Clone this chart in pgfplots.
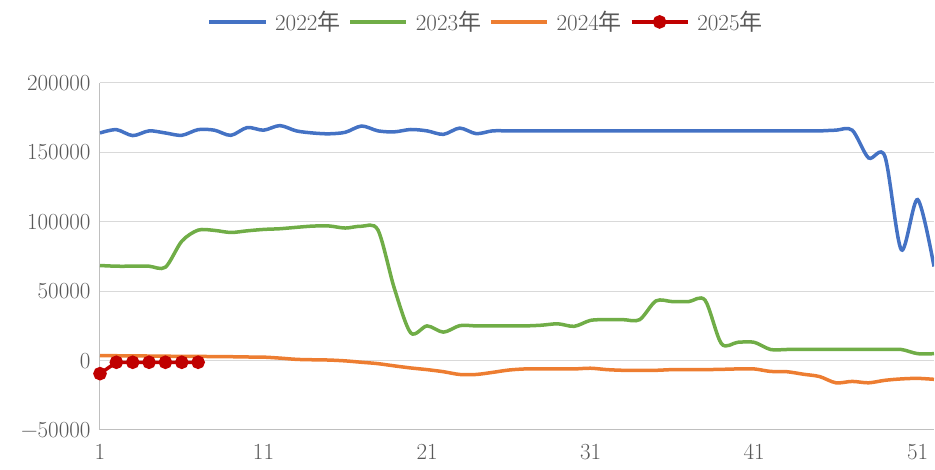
\documentclass[border=0pt]{standalone}
\usepackage{fontspec}
\usepackage{pgfplots}
\pgfplotsset{compat=1.18}
\newfontfamily\cjk{Noto Sans CJK SC}

\definecolor{c22}{HTML}{4472C4}
\definecolor{c23}{HTML}{70AD47}
\definecolor{c24}{HTML}{ED7D31}
\definecolor{c25}{HTML}{C00000}
\definecolor{txt}{HTML}{595959}

\begin{document}
\begin{tikzpicture}
  \begin{axis}[
    scale only axis,
    width=834pt, height=347pt,
    xmin=1, xmax=52,
    ymin=-50000, ymax=200000,
    xtick={1,11,21,31,41,51},
    ytick={-50000,0,50000,100000,150000,200000},
    yticklabels={−50000,0,50000,100000,150000,200000},
    scaled y ticks=false,
    /pgf/number format/assume math mode=true,
    tick label style={font=\fontsize{23}{26}\selectfont, text=txt},
    xticklabel style={yshift=-11pt},
    yticklabel style={xshift=-6pt},
    major tick length=0pt,
    axis lines=left,
    axis line style={-, draw=black!25, line width=1pt},
    ymajorgrids,
    grid style={draw=black!15, line width=1pt},
    legend style={at={(0.463,1.176)}, anchor=center, draw=none,
      font=\fontsize{23}{26}\selectfont, text=txt,
      legend columns=-1, column sep=6pt},
    legend image code/.code={
      \draw[mark repeat=2, mark phase=2] plot coordinates {(0pt,0pt) (28pt,0pt) (56pt,0pt)};},
    every axis plot/.append style={line width=3.5pt},
  ]
  % 2022
  \addplot[c22, smooth, tension=0.5] coordinates {
    (1,164000) (2,166400) (3,162100) (4,165500) (5,164000) (6,162300)
    (7,166400) (8,166000) (9,162300) (10,167900) (11,166000) (12,169300)
    (13,165500) (14,164000) (15,163400) (16,164500) (17,169000) (18,165500)
    (19,164800) (20,166500) (21,165500) (22,163000) (23,167500) (24,163500)
    (25,165500) (26,165500) (27,165500) (28,165500) (29,165500) (30,165500)
    (31,165500) (32,165500) (33,165500) (34,165500) (35,165500) (36,165500)
    (37,165500) (38,165500) (39,165500) (40,165500) (41,165500) (42,165500)
    (43,165500) (44,165500) (45,165500) (46,166000) (47,166000) (48,146000)
    (49,147000) (50,79900) (51,116000) (52,67800)
  };
  % 2023
  \addplot[c23, smooth, tension=0.5] coordinates {
    (1,68500) (2,68000) (3,68000) (4,68000) (5,67300) (6,86000)
    (7,94000) (8,93800) (9,92300) (10,93500) (11,94500) (12,95000)
    (13,96000) (14,96900) (15,97000) (16,95500) (17,96800) (18,94000)
    (19,52000) (20,20000) (21,25000) (22,20500) (23,25200) (24,25000)
    (25,25000) (26,25000) (27,25000) (28,25500) (29,26500) (30,24700)
    (31,29000) (32,29500) (33,29500) (34,29500) (35,43000) (36,42500)
    (37,42500) (38,43500) (39,12200) (40,13200) (41,13200) (42,8000)
    (43,8000) (44,8000) (45,8000) (46,8000) (47,8000) (48,8000)
    (49,8000) (50,8000) (51,5000) (52,5000)
  };
  % 2024
  \addplot[c24, smooth, tension=0.5] coordinates {
    (1,3600) (2,3500) (3,3400) (4,3300) (5,3200) (6,3000)
    (7,3000) (8,2900) (9,2800) (10,2600) (11,2500) (12,1800)
    (13,900) (14,600) (15,400) (16,-200) (17,-1200) (18,-2200)
    (19,-3800) (20,-5300) (21,-6500) (22,-8000) (23,-10000) (24,-10000)
    (25,-8500) (26,-6800) (27,-6000) (28,-6000) (29,-6000) (30,-6000)
    (31,-5500) (32,-6500) (33,-7000) (34,-7000) (35,-7000) (36,-6500)
    (37,-6500) (38,-6500) (39,-6300) (40,-6000) (41,-6000) (42,-7800)
    (43,-8000) (44,-9800) (45,-11500) (46,-16000) (47,-15000) (48,-16000)
    (49,-14200) (50,-13200) (51,-12800) (52,-13500)
  };
  % 2025
  \addplot[c25, mark=*, mark size=5pt, mark options={solid, fill=c25}] coordinates {
    (1,-9400) (2,-1200) (3,-1200) (4,-1200) (5,-1200) (6,-1200) (7,-1200)
  };
  \legend{2022{\cjk 年}, 2023{\cjk 年}, 2024{\cjk 年}, 2025{\cjk 年}}
  \end{axis}
  \pgfresetboundingbox
  \path ([shift={(-100pt,-40pt)}]current axis.south west) rectangle ([shift={(1pt,83pt)}]current axis.north east);
\end{tikzpicture}
\end{document}
